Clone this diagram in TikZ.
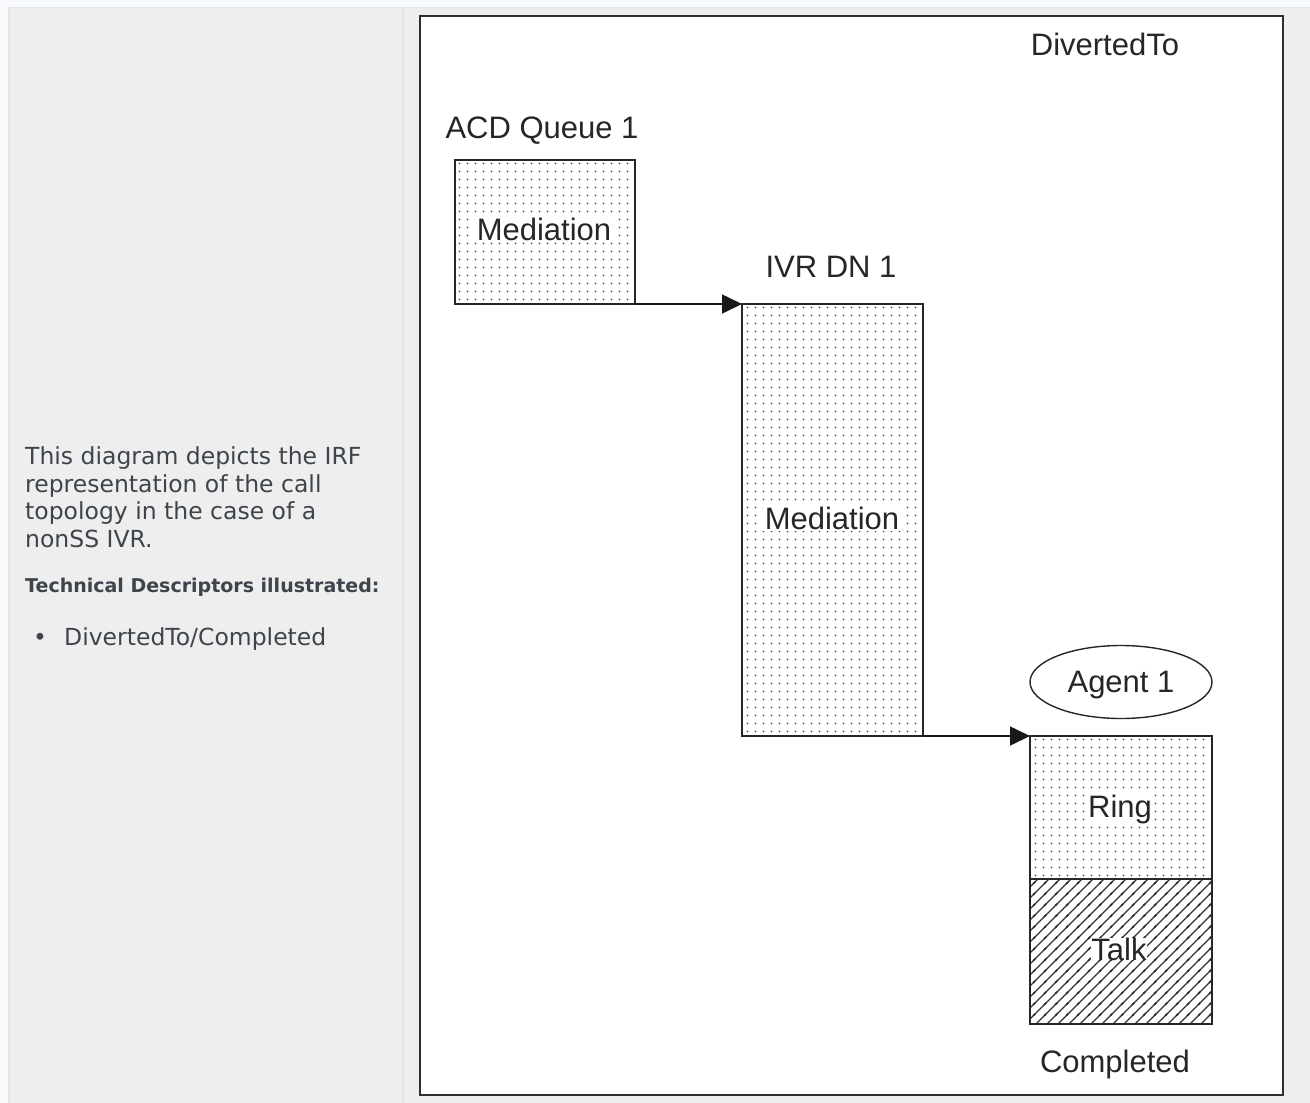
\documentclass[tikz,border=0pt]{standalone}
\usepackage{fontspec}
\setmainfont{Liberation Sans}
\newfontfamily\dejavu{DejaVu Sans}
\usetikzlibrary{arrows.meta,shapes.geometric,patterns.meta}
\definecolor{pagebg}{HTML}{F8F9FA}
\definecolor{panelbg}{HTML}{EEEEEE}
\definecolor{panelline}{HTML}{E1E6EC}
\definecolor{txt}{HTML}{3E444C}
\definecolor{framec}{HTML}{2E2E2E}
\definecolor{dotc}{HTML}{4A4A4A}
\tikzdeclarepattern{
  name=dotgrid,
  type=uncolored,
  bounding box={(0pt,0pt) and (8pt,8pt)},
  tile size={(8pt,8pt)},
  code={\fill (4pt,4pt) circle (1.1pt);}
}
\tikzdeclarepattern{
  name=hatch,
  type=uncolored,
  bounding box={(-1pt,-1pt) and (12pt,12pt)},
  tile size={(11pt,11pt)},
  code={
    \draw[line width=1.4pt] (-1pt,-1pt) -- (12pt,12pt);
    \draw[line width=1.4pt] (-1pt,10pt) -- (1pt,12pt);
    \draw[line width=1.4pt] (10pt,-1pt) -- (12pt,1pt);
  }
}
\begin{document}
\begin{tikzpicture}[x=1pt,y=-1pt,
  diag/.style={font=\fontsize{31}{36}\selectfont, text=black!85, inner sep=0pt},
  side/.style={font=\dejavu\fontsize{23.5}{27.5}\selectfont, text=txt, inner sep=0pt, anchor=base west},
  sidebold/.style={font=\dejavu\bfseries\fontsize{19}{23}\selectfont, text=txt, inner sep=0pt, anchor=base west},
  stepbox/.style={draw=black!85, line width=1.6pt, anchor=north west, inner sep=0pt, outer sep=0pt},
  dotted box/.style={stepbox, pattern={dotgrid}, pattern color=dotc},
  hatched box/.style={stepbox, pattern={hatch}, pattern color=black!80},
  inlabel/.style={diag, fill=white, inner sep=1.5pt, anchor=base},
  conn/.style={draw=black!90, line width=1.6pt, -{Triangle[length=20pt,width=19pt]}}
]
\useasboundingbox (0,0) rectangle (1310,1103);
% page background
\fill[pagebg] (0,0) rectangle (1310,1103);
\fill[panelbg] (8,7) rectangle (1310,1103);
\draw[panelline, line width=1.5pt] (9,1103) -- (9,7.5) -- (1310,7.5);
\draw[panelline, line width=1.5pt] (403,7.5) -- (403,1103);
% left description
\node[side] (d1) at (25,464) {This diagram depicts the IRF};
\node[side] (d2) at (25,492) {representation of the call};
\node[side] (d3) at (25,519) {topology in the case of a};
\node[side] (d4) at (25,547) {nonSS IVR.};
\node[sidebold] (d5) at (25,592) {Technical Descriptors illustrated:};
\node[side, anchor=base] (bul) at (40,645) {•};
\node[side] (d6) at (64,645) {DivertedTo/Completed};
% frame
\draw[fill=white, draw=framec, line width=2.2pt] (420,16) rectangle (1283,1095);
% texts
\node[diag, anchor=base] (dto) at (1105,55) {DivertedTo};
\node[diag, anchor=base] (acdl) at (542,138) {ACD Queue 1};
\node[diag, anchor=base] (ivrl) at (831,277) {IVR DN 1};
\node[diag, anchor=base] (compl) at (1115,1072) {Completed};
% boxes
\node[dotted box, minimum width=180pt, minimum height=144pt] (acd) at (455,160) {};
\node[inlabel] (acdm) at (544,240) {Mediation};
\node[dotted box, minimum width=181pt, minimum height=432pt] (ivr) at (742,304) {};
\node[inlabel] (ivrm) at (832,529) {Mediation};
\node[dotted box, minimum width=182pt, minimum height=143pt] (ring) at (1030,736) {};
\node[inlabel] (ringl) at (1120,817) {Ring};
\node[hatched box, minimum width=182pt, minimum height=145pt] (talk) at (1030,879) {};
\node[inlabel, inner sep=0pt] (talkl) at (1119,960) {Talk};
% agent
\node[diag, draw=black!85, line width=1.4pt, ellipse, minimum width=182pt, minimum height=73pt, text depth=0pt] (agent) at (1121,682) {Agent 1};
% connectors
\draw[conn] (acd.south east) -- (ivr.north west);
\draw[conn] (ivr.south east) -- (ring.north west);
\end{tikzpicture}
\end{document}
